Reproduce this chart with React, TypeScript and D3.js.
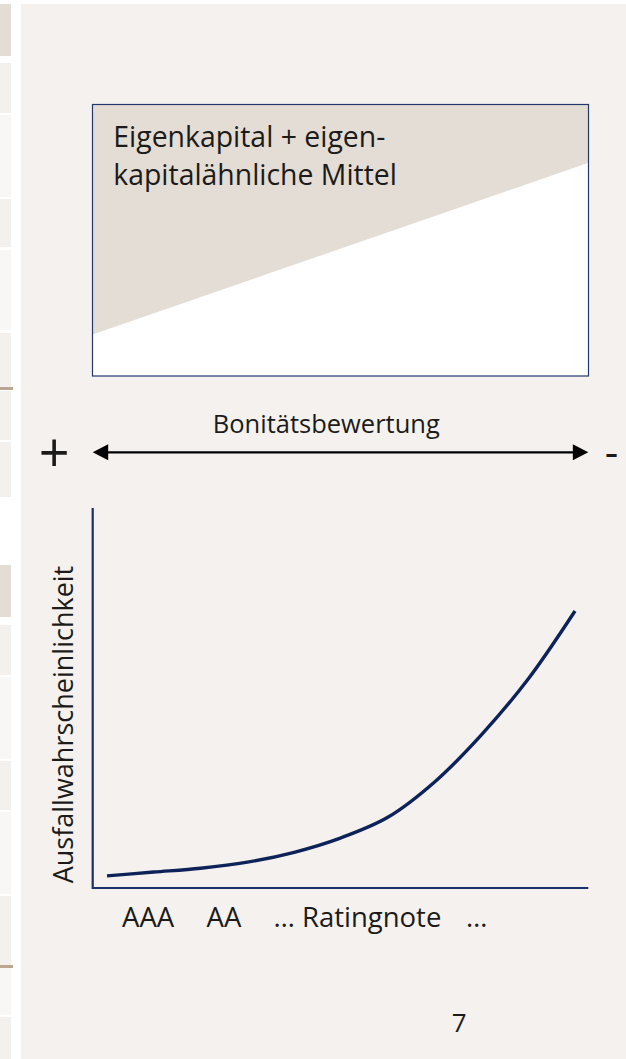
import React, { useRef, useEffect } from "react";
import * as d3 from "d3";

// rating steps along the x axis, AAA on the left, weaker ratings to the right
const ratingSteps = [0, 1, 2, 3, 4, 5, 6, 7, 8, 9, 10];
// probability of default (relative units, 0..100)
const defaultProb = [3.2, 4.2, 5.2, 6.8, 9.4, 13.2, 18.6, 27.9, 40.3, 55.0, 72.9];
// x axis labels and where they sit on the rating scale
const ratingLabels = ["AAA", "AA", "… Ratingnote", "…"];
const ratingLabelAt = [0.88, 2.5, 5.35, 7.9];
// upper box: boundary of the equity area (share of box height, from bottom) at left and right edge
const equityEdge = [0, 1];
const equityBoundary = [0.153, 0.785];

const W = 626;
const H = 1059;
const FONT = "'Open Sans', 'Noto Sans', sans-serif";
const PANEL = "#f4f1ee";
const BEIGE = "#e4ddd5";
const NAVY = "#0d2259";
const TEXT = "#1c1b19";

// side strip decoration: [top, bottom, colour]
const strip: [number, number, string][] = [
	[4, 56, BEIGE],
	[63, 113, "#f3f0ed"],
	[115, 197, "#f8f7f5"],
	[199, 247, "#f3f0ed"],
	[250, 330, "#f8f7f5"],
	[333, 387, "#f3f0ed"],
	[387, 390, "#bba690"],
	[391, 440, "#f3f0ed"],
	[442, 497, "#f3f0ed"],
	[565, 617, BEIGE],
	[625, 675, "#f3f0ed"],
	[677, 759, "#f8f7f5"],
	[761, 810, "#f3f0ed"],
	[812, 894, "#f8f7f5"],
	[896, 965, "#f3f0ed"],
	[965, 968, "#bba690"],
	[968, 1015, "#f8f7f5"],
	[1017, 1059, "#f3f0ed"],
];

const App: React.FC = () => {
	const svgRef = useRef<SVGSVGElement | null>(null);

	useEffect(() => {
		if (!svgRef.current) return;
		const svg = d3.select(svgRef.current);
		svg.selectAll("*").remove();

		svg.append("rect").attr("width", W).attr("height", H).attr("fill", "#ffffff");
		svg.append("rect")
			.attr("x", 21).attr("y", 4)
			.attr("width", W - 21).attr("height", H - 4)
			.attr("fill", PANEL);

		svg.append("g")
			.selectAll("rect")
			.data(strip)
			.enter()
			.append("rect")
			.attr("x", 0)
			.attr("y", (d) => d[0])
			.attr("width", (d) => (d[1] - d[0] <= 3 ? 13 : 11))
			.attr("height", (d) => d[1] - d[0])
			.attr("fill", (d) => d[2]);

		// ---- upper box ----
		const bx = d3.scaleLinear().domain([0, 1]).range([92.5, 588.5]);
		const by = d3.scaleLinear().domain([0, 1]).range([376, 104.5]);

		svg.append("rect")
			.attr("x", bx(0)).attr("y", by(1))
			.attr("width", bx(1) - bx(0)).attr("height", by(0) - by(1))
			.attr("fill", "#ffffff");

		const equityArea = d3
			.area<number>()
			.x((d) => bx(d))
			.y0(() => by(1))
			.y1((_, i) => by(equityBoundary[i]));

		svg.append("path")
			.attr("d", equityArea(equityEdge))
			.attr("fill", BEIGE);

		svg.append("rect")
			.attr("x", bx(0)).attr("y", by(1))
			.attr("width", bx(1) - bx(0)).attr("height", by(0) - by(1))
			.attr("fill", "none")
			.attr("stroke", "#24386e")
			.attr("stroke-width", 1.2);

		const boxText = svg.append("text")
			.attr("font-family", FONT)
			.attr("font-size", 28.4)
			.attr("fill", TEXT);
		boxText.append("tspan").attr("x", 113.3).attr("y", 147.3).text("Eigenkapital + eigen-");
		boxText.append("tspan").attr("x", 113.3).attr("y", 185.3).text("kapitalähnliche Mittel");

		// ---- rating arrow ----
		svg.append("text")
			.attr("x", 326.3).attr("y", 433.3)
			.attr("text-anchor", "middle")
			.attr("font-family", FONT)
			.attr("font-size", 25.5)
			.attr("fill", TEXT)
			.text("Bonitätsbewertung");

		const ay = 452.3;
		const aL = 92.7;
		const aR = 588.3;
		svg.append("line")
			.attr("x1", aL + 10).attr("x2", aR - 10)
			.attr("y1", ay).attr("y2", ay)
			.attr("stroke", "#000").attr("stroke-width", 2.2);
		svg.append("path")
			.attr("d", `M${aL},${ay} L${aL + 15.5},${ay - 8} L${aL + 15.5},${ay + 8} Z`)
			.attr("fill", "#000");
		svg.append("path")
			.attr("d", `M${aR},${ay} L${aR - 15.5},${ay - 8} L${aR - 15.5},${ay + 8} Z`)
			.attr("fill", "#000");

		svg.append("text")
			.attr("x", 54.3).attr("y", 472)
			.attr("text-anchor", "middle")
			.attr("font-family", FONT)
			.attr("font-size", 54)
			.attr("fill", TEXT)
			.text("+");
		svg.append("text")
			.attr("x", 611.5).attr("y", 467)
			.attr("text-anchor", "middle")
			.attr("font-family", FONT)
			.attr("font-size", 42)
			.attr("fill", TEXT)
			.text("-");

		// ---- default probability chart ----
		const x = d3.scaleLinear().domain([0, 10]).range([107, 575]);
		const y = d3.scaleLinear().domain([0, 100]).range([888, 508]);
		const x0 = 92.7;

		svg.append("path")
			.attr("d", `M${x0},${y(100)} L${x0},${y(0)} L${aR},${y(0)}`)
			.attr("fill", "none")
			.attr("stroke", "#1b2f69")
			.attr("stroke-width", 2.2);

		const line = d3
			.line<number>()
			.x((d) => x(d))
			.y((_, i) => y(defaultProb[i]))
			.curve(d3.curveCatmullRom.alpha(0.5));

		svg.append("path")
			.attr("d", line(ratingSteps))
			.attr("fill", "none")
			.attr("stroke", NAVY)
			.attr("stroke-width", 3.4);

		svg.append("g")
			.selectAll("text")
			.data(ratingLabels)
			.enter()
			.append("text")
			.attr("x", (_, i) => x(ratingLabelAt[i]))
			.attr("y", 927)
			.attr("text-anchor", "middle")
			.attr("font-family", FONT)
			.attr("font-size", 27.5)
			.attr("fill", TEXT)
			.text((d) => d);

		svg.append("text")
			.attr("transform", "translate(73.3,883.3) rotate(-90)")
			.attr("font-family", FONT)
			.attr("font-size", 27)
			.attr("fill", TEXT)
			.text("Ausfallwahrscheinlichkeit");

		svg.append("text")
			.attr("x", 459.3).attr("y", 1031.7)
			.attr("text-anchor", "middle")
			.attr("font-family", FONT)
			.attr("font-size", 26)
			.attr("fill", TEXT)
			.text("7");
	}, []);

	return (
		<svg
			ref={svgRef}
			width={W}
			height={H}
			style={{ position: "absolute", left: 0, top: 0, display: "block" }}
		/>
	);
};

export default App;
